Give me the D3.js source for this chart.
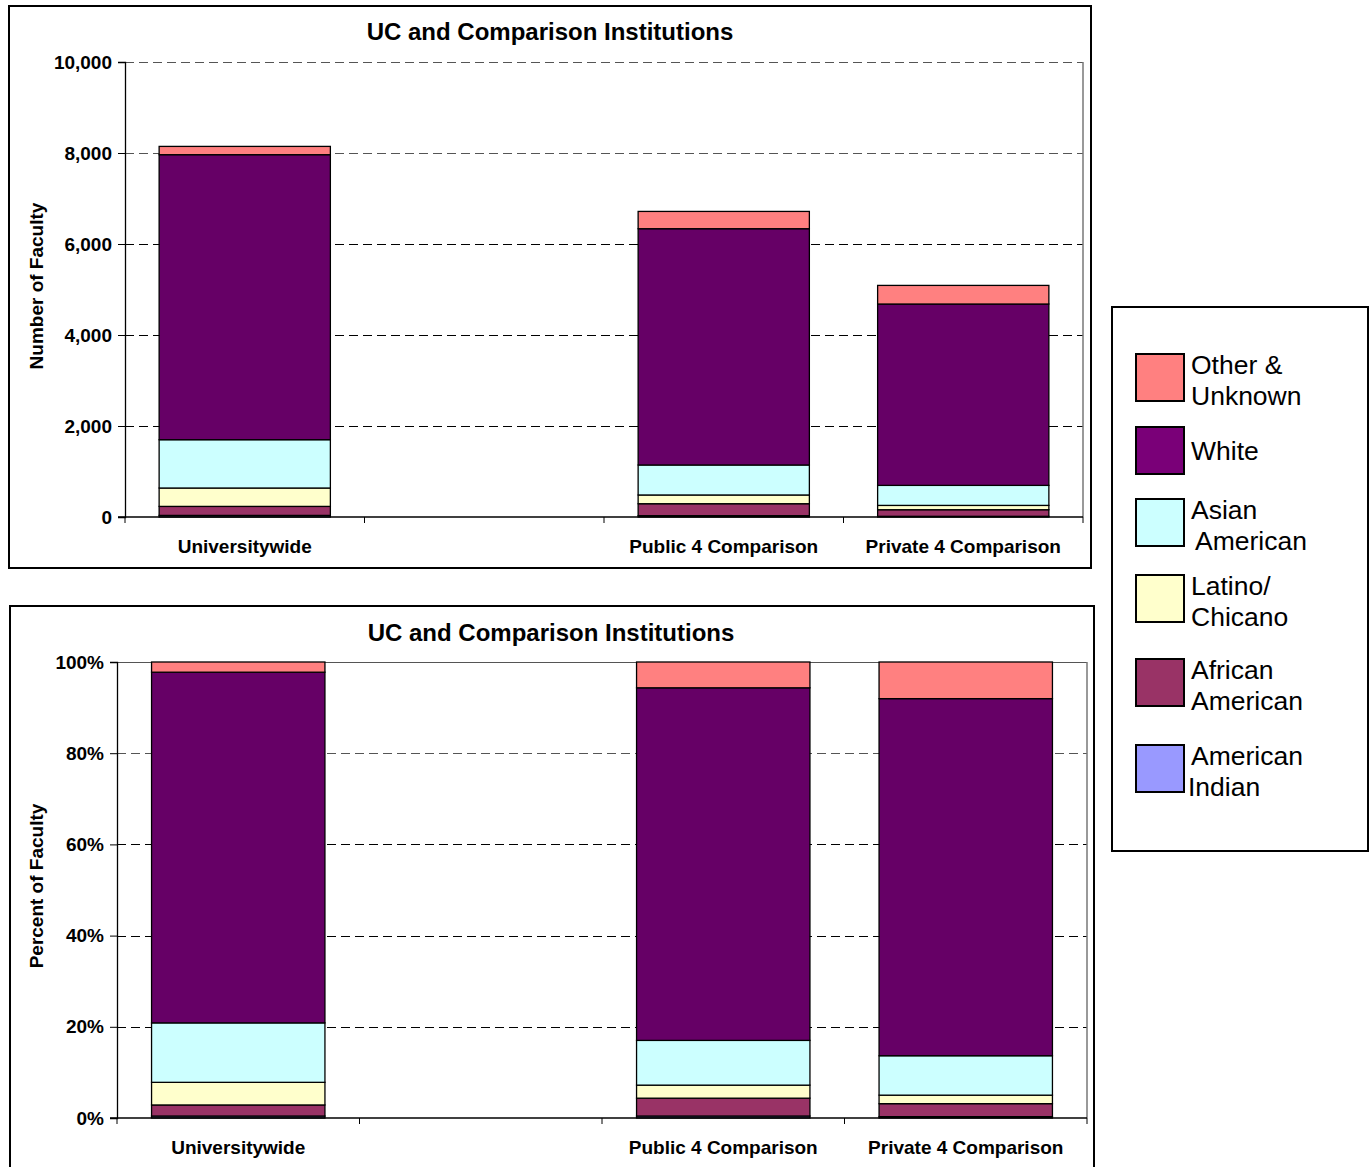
<!DOCTYPE html>
<html lang="en">
<head>
  <meta http-equiv="Content-Type" content="text/html; charset=utf-8">
  <title>UC and Comparison Institutions</title>
  <style type="text/css">
    body  { margin: 0; background: #fff; }
    svg   { display: block; font-family: "Liberation Sans", Arial, sans-serif; }
    .tick text, .cat { font-weight: bold; font-size: 19px; }
    .title { font-weight: bold; font-size: 24px; }
    .ylab  { font-weight: bold; font-size: 19px; }
    .leg   { font-size: 26.5px; }
  </style>
</head>
<body>
<script src="https://d3js.org/d3.v7.min.js"></script>
<script>
  //----------------------------------------------------------------------------
  // slots along the x axis; the second one is left empty in the original
  var categories = ["Universitywide", "", "Public 4 Comparison", "Private 4 Comparison"];

  // bottom-to-top stacking order
  var groups = ["American Indian", "African American", "Latino/ Chicano",
                "Asian American", "White", "Other & Unknown"];

  // number of faculty per group, one value per category
  var americanIndian  = [35,   0, 29,   15];
  var africanAmerican = [198,  0, 263,  145];
  var latinoChicano   = [404,  0, 192,  95];
  var asianAmerican   = [1062, 0, 659,  440];
  var white           = [6264, 0, 5193, 3986];
  var otherUnknown    = [182,  0, 380,  409];

  var countTicks   = [0, 2000, 4000, 6000, 8000, 10000];
  var percentTicks = [0, 0.2, 0.4, 0.6, 0.8, 1];

  var colors = ["#9999ff", "#993366", "#ffffcc", "#ccffff", "#660066", "#ff8080"];

  var series = [americanIndian, africanAmerican, latinoChicano,
                asianAmerican, white, otherUnknown];

  var rows = categories.map(function(c, i) {
    var r = { category: c };
    groups.forEach(function(g, j) { r[g] = series[j][i]; });
    return r;
  });

  var width = 1372;
  var height = 1167;

  var svg = d3.select("body")
    .append("svg")
      .attr("width", width)
      .attr("height", height);

  function drawChart(o) {
    var g = svg.append("g");

    g.append("rect")
      .attr("x", o.frame[0]).attr("y", o.frame[1])
      .attr("width", o.frame[2]).attr("height", o.frame[3])
      .attr("fill", "#fff").attr("stroke", "#000").attr("stroke-width", 2);

    var x = d3.scaleBand()
      .domain(categories)
      .range([o.left, o.right])
      .paddingInner(0.285)
      .paddingOuter(0.1425);

    var y = d3.scaleLinear()
      .domain(o.domain)
      .range([o.bottom, o.top]);

    // gridlines
    g.append("g")
      .selectAll("line")
      .data(o.ticks.slice(1))
      .join("line")
        .attr("x1", o.left).attr("x2", o.right)
        .attr("y1", function(d) { return Math.round(y(d)) + 0.5; })
        .attr("y2", function(d) { return Math.round(y(d)) + 0.5; })
        .attr("stroke", function(d, i, n) { return i >= n.length - 2 ? "#555" : "#000"; })
        .attr("stroke-width", 1.2)
        .attr("stroke-dasharray", function(d, i, n) { return (i === n.length - 1 && o.solidTop) ? null : "9,5"; });

    // right border of plot area
    g.append("line")
      .attr("x1", o.right).attr("x2", o.right)
      .attr("y1", o.top).attr("y2", o.bottom)
      .attr("stroke", "#777").attr("stroke-width", 1.5);

    var stack = d3.stack().keys(groups);
    if (o.expand) stack.offset(d3.stackOffsetExpand);
    var layers = stack(rows.filter(function(r) { return r.category !== ""; }));

    g.append("g")
      .selectAll("g")
      .data(layers)
      .join("g")
        .attr("fill", function(d, i) { return colors[i]; })
      .selectAll("rect")
      .data(function(d) { return d; })
      .join("rect")
        .attr("x", function(d) { return x(d.data.category); })
        .attr("y", function(d) { return y(d[1]); })
        .attr("width", x.bandwidth())
        .attr("height", function(d) { return Math.max(0, y(d[0]) - y(d[1])); })
        .attr("stroke", "#000")
        .attr("stroke-width", 1.3);

    // y axis
    var yAxis = g.append("g")
      .attr("transform", "translate(" + o.left + ",0)")
      .call(d3.axisLeft(y).tickValues(o.ticks).tickFormat(o.format).tickSize(7).tickPadding(6));
    yAxis.select(".domain").attr("stroke", "#000").attr("stroke-width", 1.3);
    yAxis.selectAll(".tick line").attr("stroke", "#000");
    yAxis.selectAll(".tick text")
      .attr("fill", "#000")
      .attr("font-family", null).attr("font-size", null);

    // x axis: baseline, separators between slots, labels
    g.append("line")
      .attr("x1", o.left - 7).attr("x2", o.right)
      .attr("y1", o.bottom).attr("y2", o.bottom)
      .attr("stroke", "#000").attr("stroke-width", 1.3);

    g.append("g")
      .selectAll("line")
      .data(d3.range(categories.length + 1))
      .join("line")
        .attr("x1", function(i) { return o.left + i * x.step(); })
        .attr("x2", function(i) { return o.left + i * x.step(); })
        .attr("y1", o.bottom).attr("y2", o.bottom + 6)
        .attr("stroke", "#000");

    g.append("g")
      .selectAll("text")
      .data(categories)
      .join("text")
        .attr("class", "cat")
        .attr("x", function(d) { return x(d) + x.bandwidth() / 2; })
        .attr("y", o.bottom + 36)
        .attr("text-anchor", "middle")
        .text(function(d) { return d; });

    g.append("text")
      .attr("class", "title")
      .attr("x", o.titleX).attr("y", o.titleY)
      .attr("text-anchor", "middle")
      .text("UC and Comparison Institutions");

    g.append("text")
      .attr("class", "ylab")
      .attr("transform", "translate(" + 43 + "," + o.ylabY + ") rotate(-90)")
      .attr("text-anchor", "middle")
      .text(o.ylabel);
  }

  drawChart({
    frame: [9, 6, 1082, 562],
    left: 125, right: 1083, top: 62, bottom: 517,
    domain: [0, 10000], ticks: countTicks, format: d3.format(","),
    expand: false, solidTop: false,
    titleX: 550, titleY: 40, ylabY: 286,
    ylabel: "Number of Faculty"
  });

  drawChart({
    frame: [10, 606, 1084, 575],
    left: 117, right: 1087, top: 662, bottom: 1118,
    domain: [0, 1], ticks: percentTicks, format: d3.format(".0%"),
    expand: true, solidTop: true,
    titleX: 551, titleY: 641, ylabY: 886,
    ylabel: "Percent of Faculty"
  });

  // legend, top to bottom
  var legendItems = [
    { color: "#ff8080", lines: ["Other &", "Unknown"], y: 354, dx: [0, 0] },
    { color: "#7a0078", lines: ["White"], y: 427, dx: [0] },
    { color: "#ccffff", lines: ["Asian", "American"], y: 499, dx: [0, 4] },
    { color: "#ffffcc", lines: ["Latino/", "Chicano"], y: 575, dx: [0, 0] },
    { color: "#993366", lines: ["African", "American"], y: 659, dx: [0, 0] },
    { color: "#9999ff", lines: ["American", "Indian"], y: 745, dx: [0, -3] }
  ];

  var legend = svg.append("g");
  legend.append("rect")
    .attr("x", 1112).attr("y", 307).attr("width", 256).attr("height", 544)
    .attr("fill", "#fff").attr("stroke", "#000").attr("stroke-width", 2);

  var item = legend.selectAll("g.item")
    .data(legendItems)
    .join("g")
      .attr("class", "item");

  item.append("rect")
    .attr("x", 1136).attr("y", function(d) { return d.y; })
    .attr("width", 48).attr("height", 47)
    .attr("fill", function(d) { return d.color; })
    .attr("stroke", "#000").attr("stroke-width", 2);

  item.each(function(d) {
    var el = d3.select(this);
    var top = d.lines.length === 1 ? d.y + 33 : d.y + 20;
    d.lines.forEach(function(l, k) {
      el.append("text")
        .attr("class", "leg")
        .attr("x", 1191 + d.dx[k])
        .attr("y", top + k * 31)
        .text(l);
    });
  });
  //----------------------------------------------------------------------------
</script>
</body>
</html>
